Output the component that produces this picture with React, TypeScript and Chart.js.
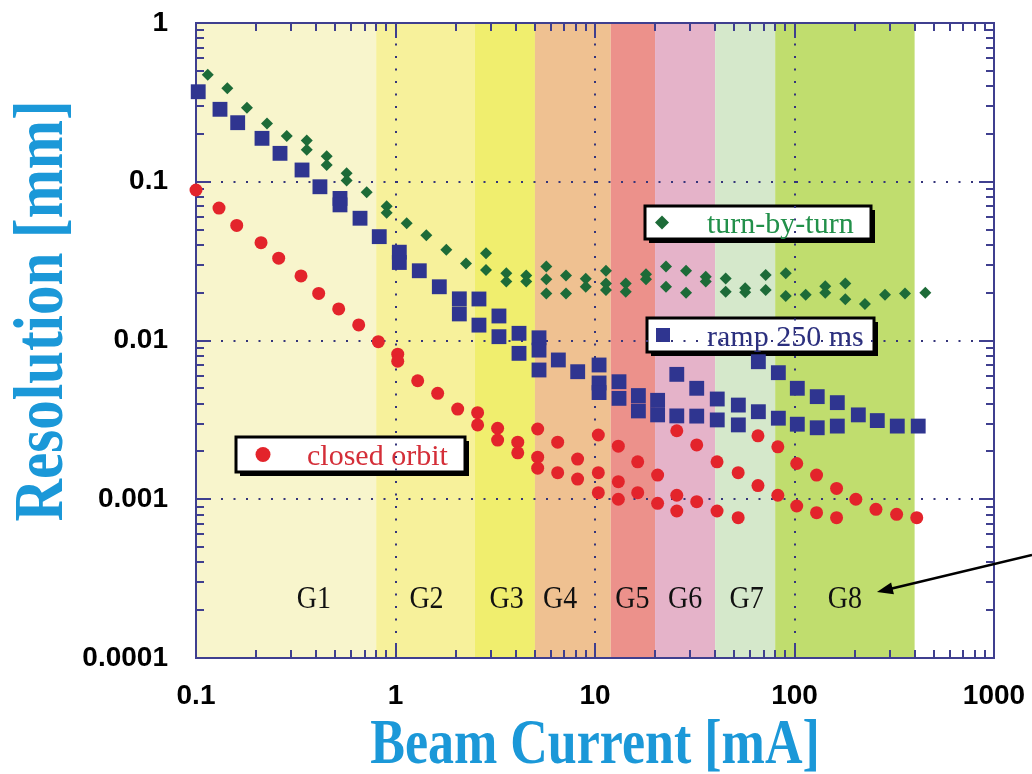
import { useEffect, useRef } from 'react';
import { Chart, registerables } from 'chart.js';

Chart.register(...registerables);

// ---------------- data ----------------
const xTicks = [0.1, 1, 10, 100, 1000];
const yTicks = [1, 0.1, 0.01, 0.001, 0.0001];

const bandEdges = [0.1, 0.8, 2.5, 5, 12, 20, 40, 80, 400];
const bandNames = ['G1', 'G2', 'G3', 'G4', 'G5', 'G6', 'G7', 'G8'];
const bandLabelX = [0.39, 1.43, 3.61, 6.68, 15.4, 28.3, 57.6, 179];
const bandLabelY = 0.00024;

const turnByTurn: [number, number][] = [
  [0.1145, 0.472], [0.1435, 0.388], [0.18, 0.293], [0.227, 0.233], [0.285, 0.194],
  [0.359, 0.182], [0.359, 0.159], [0.452, 0.145], [0.452, 0.1275], [0.569, 0.113],
  [0.569, 0.102], [0.717, 0.0858], [0.903, 0.07], [0.903, 0.0638], [1.138, 0.0547],
  [1.427, 0.046], [1.798, 0.0373], [2.256, 0.0305], [2.842, 0.0354], [2.842, 0.0278],
  [3.594, 0.0265], [3.594, 0.0235], [4.524, 0.0257], [4.524, 0.0235], [5.7, 0.0292],
  [5.7, 0.0243], [5.7, 0.0198], [7.155, 0.0257], [7.155, 0.0198], [8.99, 0.0245],
  [8.99, 0.0218], [11.35, 0.0275], [11.35, 0.0229], [11.35, 0.0208], [14.26, 0.0229],
  [14.26, 0.0203], [18.02, 0.0261], [18.02, 0.0243], [22.7, 0.0292], [22.7, 0.0218],
  [28.6, 0.0275], [28.6, 0.02], [35.9, 0.0252], [35.9, 0.0235], [45.2, 0.0246],
  [45.2, 0.0203], [56.6, 0.0213], [56.6, 0.0201], [71.7, 0.0259], [71.7, 0.0208],
  [90.4, 0.0265], [90.4, 0.0191], [113.8, 0.0194], [142.6, 0.022], [142.6, 0.02],
  [179.8, 0.0229], [179.8, 0.0182], [225.5, 0.017], [284.2, 0.0194], [358, 0.0198],
  [452.5, 0.02],
];

const ramp250ms: [number, number][] = [
  [0.1026, 0.369], [0.1319, 0.286], [0.1618, 0.2355], [0.2142, 0.1877], [0.2637, 0.151],
  [0.34, 0.1186], [0.418, 0.093], [0.527, 0.0785], [0.527, 0.0715], [0.664, 0.0589],
  [0.829, 0.0451], [1.045, 0.036], [1.045, 0.031], [1.316, 0.0275], [1.658, 0.0218],
  [2.089, 0.0183], [2.089, 0.0147], [2.62, 0.01826], [2.62, 0.0125], [3.3, 0.01427],
  [3.3, 0.01057], [4.16, 0.0111], [4.16, 0.0083], [5.24, 0.0104], [5.24, 0.0087],
  [5.24, 0.00652], [6.55, 0.00754], [8.19, 0.00636], [10.48, 0.00701], [10.48, 0.0054],
  [10.48, 0.0047], [13.19, 0.0055], [13.19, 0.00432], [16.5, 0.0045], [16.5, 0.0036],
  [20.6, 0.0042], [20.6, 0.0034], [25.7, 0.00612], [25.7, 0.00335], [32.35, 0.005],
  [32.35, 0.00334], [41.0, 0.00428], [41.0, 0.00316], [52.3, 0.00392], [52.3, 0.00294],
  [65.9, 0.00735], [65.9, 0.00356], [83, 0.00627], [83, 0.00324], [103.3, 0.005],
  [103.3, 0.00297], [130, 0.00443], [130, 0.00282], [163.9, 0.00406], [163.9, 0.00289],
  [208.9, 0.0034], [260, 0.00313], [327.5, 0.00289], [417, 0.00289],
];

const closedOrbit: [number, number][] = [
  [0.1, 0.0887], [0.1304, 0.0683], [0.16, 0.0531], [0.2118, 0.0413], [0.2597, 0.033],
  [0.336, 0.0255], [0.412, 0.0198], [0.519, 0.0158], [0.654, 0.01253], [0.82, 0.00983],
  [1.026, 0.0082], [1.026, 0.0074], [1.292, 0.00558], [1.627, 0.00465], [2.05, 0.0037],
  [2.58, 0.00351], [2.58, 0.00294], [3.25, 0.0028], [3.25, 0.00236], [4.1, 0.00229],
  [4.1, 0.00196], [5.16, 0.00277], [5.16, 0.00184], [5.16, 0.00157], [6.5, 0.00229],
  [6.5, 0.00147], [8.18, 0.00179], [8.18, 0.00134], [10.39, 0.00254], [10.39, 0.00147],
  [10.39, 0.0011], [13.09, 0.00216], [13.09, 0.00129], [13.09, 0.001], [16.37, 0.00172],
  [16.37, 0.0011], [20.6, 0.00142], [20.6, 0.000943], [25.7, 0.0027], [25.7, 0.00106],
  [25.7, 0.000843], [32.35, 0.0022], [32.35, 0.000966], [40.9, 0.00172], [40.9, 0.000843],
  [52.2, 0.00147], [52.2, 0.000765], [65.6, 0.00251], [65.6, 0.00122], [82.5, 0.00214],
  [82.5, 0.00106], [102.6, 0.00168], [102.6, 0.000907], [129, 0.00142], [129, 0.000823],
  [162.5, 0.00117], [162.5, 0.000765], [203, 0.001], [256, 0.000864], [325, 0.000804],
  [410, 0.000765],
];

const seriesNames = ['turn-by-turn', 'ramp 250 ms', 'closed orbit'];
const xTitle = 'Beam Current [mA]';
const yTitle = 'Resolution [mm]';
const arrowTip = [259, 0.00026];
const arrowStartY = 0.000446;

// ---------------- styles ----------------
const bandColors = ['#f8f5cc', '#f7f19b', '#f0ee6e', '#efc191', '#ec918b', '#e5b3c9', '#d5e8cb', '#c0dd6e'];
const GREEN = '#1d6b38';
const BLUE = '#2f3590';
const RED = '#e3242b';
const AXIS = '#3f3f8f';
const TITLE = '#1b98d8';
const SERIF = '"Liberation Serif", "Times New Roman", serif';
const SANS = '"Liberation Sans", Arial, sans-serif';

const legendBoxes = [
  { text: seriesNames[0], color: '#22904a', bx: 645, by: 206, w: 226, h: 33, mx: 662, tx: 707, ty: 233, marker: 'diamond', mcolor: GREEN },
  { text: seriesNames[1], color: '#2b2f7e', bx: 647, by: 318, w: 227, h: 34, mx: 663, tx: 707, ty: 346, marker: 'square', mcolor: BLUE },
  { text: seriesNames[2], color: '#d42e38', bx: 236, by: 437, w: 229, h: 35, mx: 263, tx: 307, ty: 465, marker: 'circle', mcolor: RED },
];

function logTicks(min: number, max: number) {
  const out: { v: number; major: boolean }[] = [];
  for (let e = Math.round(Math.log10(min)); e < Math.round(Math.log10(max)); e++) {
    for (let m = 1; m <= 9; m++) out.push({ v: m * Math.pow(10, e), major: m === 1 });
  }
  out.push({ v: max, major: true });
  return out;
}

const zeroPad = (s: any) => {
  s.paddingTop = 0;
  s.paddingBottom = 0;
  s.paddingLeft = 0;
  s.paddingRight = 0;
};

const decorPlugin = {
  id: 'decor',
  beforeDraw(chart: any) {
    const { ctx, chartArea: a } = chart;
    const x = chart.scales.x;
    const y = chart.scales.y;
    ctx.save();
    ctx.fillStyle = '#ffffff';
    ctx.fillRect(0, 0, chart.width, chart.height);
    for (let i = 0; i < bandColors.length; i++) {
      const x0 = x.getPixelForValue(bandEdges[i]);
      const x1 = x.getPixelForValue(bandEdges[i + 1]);
      ctx.fillStyle = bandColors[i];
      ctx.fillRect(x0, a.top, x1 - x0, a.bottom - a.top);
    }
    // band labels
    ctx.fillStyle = '#111111';
    ctx.textAlign = 'center';
    ctx.textBaseline = 'alphabetic';
    ctx.font = `28px ${SERIF}`;
    for (let i = 0; i < bandNames.length; i++) {
      const px = x.getPixelForValue(bandLabelX[i]);
      const py = y.getPixelForValue(bandLabelY) + 10;
      ctx.save();
      ctx.translate(px, py);
      ctx.scale(1, 1.15);
      ctx.fillText(bandNames[i], 0, 0);
      ctx.restore();
    }
    // legend boxes
    for (const b of legendBoxes) {
      ctx.fillStyle = '#000';
      ctx.fillRect(b.bx + 4, b.by + 4, b.w, b.h);
      ctx.fillStyle = '#fff';
      ctx.fillRect(b.bx, b.by, b.w, b.h);
      ctx.lineWidth = 3;
      ctx.strokeStyle = '#000';
      ctx.strokeRect(b.bx, b.by, b.w, b.h);
      const my = b.by + b.h / 2;
      ctx.fillStyle = b.mcolor;
      ctx.beginPath();
      if (b.marker === 'diamond') {
        ctx.moveTo(b.mx, my - 7); ctx.lineTo(b.mx + 7, my); ctx.lineTo(b.mx, my + 7); ctx.lineTo(b.mx - 7, my); ctx.closePath();
      } else if (b.marker === 'square') {
        ctx.rect(b.mx - 7, my - 7, 14, 14);
      } else {
        ctx.arc(b.mx, my, 7.5, 0, Math.PI * 2);
      }
      ctx.fill();
      ctx.fillStyle = b.color;
      ctx.textAlign = 'left';
      ctx.font = `30px ${SERIF}`;
      ctx.fillText(b.text, b.tx, b.ty);
    }
    ctx.restore();
  },
  beforeDatasetsDraw(chart: any) {
    const { ctx, chartArea: a } = chart;
    const x = chart.scales.x;
    const y = chart.scales.y;
    ctx.save();
    // dotted grid at inner decades
    ctx.strokeStyle = '#34347a';
    ctx.lineWidth = 2;
    ctx.setLineDash([2, 10.5]);
    for (const v of xTicks.slice(1, -1)) {
      const px = Math.round(x.getPixelForValue(v));
      ctx.beginPath(); ctx.moveTo(px, a.bottom); ctx.lineTo(px, a.top); ctx.stroke();
    }
    for (const v of yTicks.slice(1, -1)) {
      const py = Math.round(y.getPixelForValue(v));
      ctx.beginPath(); ctx.moveTo(a.left, py); ctx.lineTo(a.right, py); ctx.stroke();
    }
    ctx.setLineDash([]);
    // ticks
    ctx.strokeStyle = AXIS;
    ctx.lineWidth = 2;
    for (const t of logTicks(0.1, 1000)) {
      const px = Math.round(x.getPixelForValue(t.v));
      const L = t.major ? 15 : 8;
      ctx.beginPath();
      ctx.moveTo(px, a.bottom); ctx.lineTo(px, a.bottom - L);
      ctx.moveTo(px, a.top); ctx.lineTo(px, a.top + L);
      ctx.stroke();
    }
    for (const t of logTicks(0.0001, 1)) {
      const py = Math.round(y.getPixelForValue(t.v));
      const L = t.major ? 15 : 8;
      ctx.beginPath();
      ctx.moveTo(a.left, py); ctx.lineTo(a.left + L, py);
      ctx.moveTo(a.right, py); ctx.lineTo(a.right - L, py);
      ctx.stroke();
    }
    ctx.strokeRect(a.left, a.top, a.right - a.left, a.bottom - a.top);
    ctx.restore();
  },
  afterDraw(chart: any) {
    const { ctx, chartArea: a } = chart;
    const x = chart.scales.x;
    const y = chart.scales.y;
    ctx.save();
    ctx.fillStyle = TITLE;
    ctx.textAlign = 'center';
    ctx.textBaseline = 'alphabetic';
    ctx.font = `bold 52px ${SERIF}`;
    ctx.save();
    ctx.translate((a.left + a.right) / 2, 763);
    ctx.scale(1, 1.2);
    ctx.fillText(xTitle, 0, 0);
    ctx.restore();
    ctx.save();
    ctx.font = `bold 59px ${SERIF}`;
    ctx.translate(62, 311);
    ctx.rotate(-Math.PI / 2);
    ctx.scale(1, 1.2);
    ctx.fillText(yTitle, 0, 0);
    ctx.restore();
    // arrow
    const tx = x.getPixelForValue(arrowTip[0]);
    const ty = y.getPixelForValue(arrowTip[1]);
    const sx = chart.width;
    const sy = y.getPixelForValue(arrowStartY);
    const ang = Math.atan2(ty - sy, tx - sx);
    ctx.strokeStyle = '#000';
    ctx.fillStyle = '#000';
    ctx.lineWidth = 2.5;
    ctx.beginPath();
    ctx.moveTo(sx, sy);
    ctx.lineTo(tx - Math.cos(ang) * 10, ty - Math.sin(ang) * 10);
    ctx.stroke();
    ctx.beginPath();
    ctx.moveTo(tx, ty);
    ctx.lineTo(tx - Math.cos(ang) * 16 + Math.sin(ang) * 6, ty - Math.sin(ang) * 16 - Math.cos(ang) * 6);
    ctx.lineTo(tx - Math.cos(ang) * 16 - Math.sin(ang) * 6, ty - Math.sin(ang) * 16 + Math.cos(ang) * 6);
    ctx.closePath();
    ctx.fill();
    ctx.restore();
  },
};

const toPts = (arr: [number, number][]) => arr.map(([x, y]) => ({ x, y }));

export default function App() {
  const ref = useRef<HTMLCanvasElement>(null);
  useEffect(() => {
    document.body.style.margin = '0';
    const chart = new Chart(ref.current!, {
      type: 'scatter',
      data: {
        datasets: [
          { label: seriesNames[2], data: toPts(closedOrbit), pointStyle: 'circle', pointRadius: 6.5, backgroundColor: RED, borderColor: RED, borderWidth: 0, clip: false } as any,
          { label: seriesNames[0], data: toPts(turnByTurn), pointStyle: 'rectRot', pointRadius: 6, backgroundColor: GREEN, borderColor: GREEN, borderWidth: 0, clip: false } as any,
          { label: seriesNames[1], data: toPts(ramp250ms), pointStyle: 'rect', pointRadius: 10.5, backgroundColor: BLUE, borderColor: BLUE, borderWidth: 0, clip: false } as any,
        ],
      },
      options: {
        responsive: false,
        animation: false,
        devicePixelRatio: 1,
        events: [],
        layout: { padding: { top: 23, right: 38, left: 0, bottom: 0 } },
        plugins: { legend: { display: false }, tooltip: { enabled: false } },
        scales: {
          x: {
            type: 'logarithmic',
            min: 0.1,
            max: 1000,
            afterFit: (s: any) => { s.height = 116; zeroPad(s); },
            afterBuildTicks: (s: any) => { s.ticks = xTicks.map((v) => ({ value: v })); },
            grid: { display: false },
            border: { display: false },
            ticks: {
              autoSkip: false,
              maxRotation: 0,
              padding: 13,
              color: '#000',
              font: { family: SANS, size: 28, weight: 'bold' },
              callback: (v: any) => String(v),
            },
          },
          y: {
            type: 'logarithmic',
            min: 0.0001,
            max: 1,
            afterFit: (s: any) => { s.width = 196; zeroPad(s); },
            afterBuildTicks: (s: any) => { s.ticks = yTicks.map((v) => ({ value: v })); },
            grid: { display: false },
            border: { display: false },
            ticks: {
              autoSkip: false,
              padding: 20,
              color: '#000',
              font: { family: SANS, size: 28, weight: 'bold' },
              callback: (v: any) => String(v),
            },
          },
        },
      } as any,
      plugins: [decorPlugin],
    });
    return () => chart.destroy();
  }, []);
  return (
    <div style={{ position: 'absolute', left: 0, top: 0 }}>
      <canvas ref={ref} width={1032} height={774} style={{ display: 'block', width: 1032, height: 774 }} />
    </div>
  );
}
